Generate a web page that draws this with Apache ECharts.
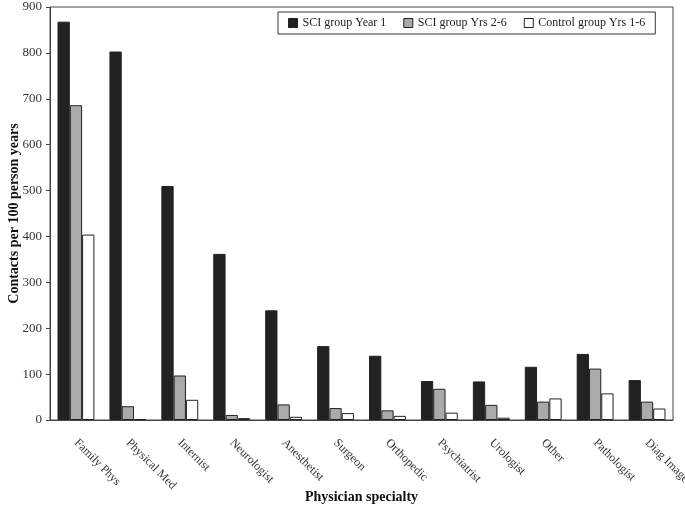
<!DOCTYPE html>
<html><head><meta charset="utf-8">
<script src="https://cdn.jsdelivr.net/npm/echarts@6/dist/echarts.min.js"></script>
<style>html,body{margin:0;padding:0;background:#fff}#c{width:685px;height:508px}</style>
</head><body><div id="c"></div>
<script>
const categories = ['Family Phys','Physical Med','Internist','Neurologist','Anesthetist','Surgeon','Orthopedic','Psychiatrist','Urologist','Other','Pathologist','Diag Image'];
const sciYear1 = [868, 803, 510, 362, 239, 161, 140, 85, 84, 116, 144, 87];
const sciYrs2to6 = [686, 30, 97, 11, 34, 26, 21, 68, 33, 40, 112, 40];
const controlYrs1to6 = [404, 2, 44, 4, 7, 15, 9, 16, 5, 47, 58, 25];
const seriesNames = ['SCI group Year 1', 'SCI group Yrs 2-6', 'Control group Yrs 1-6'];
const yTicks = {min: 0, max: 900, interval: 100};

const font = 'Liberation Serif';
const chart = echarts.init(document.getElementById('c'));
const mk = (name, data, color) => ({
  name, type: 'bar', data, barGap: '0%', barCategoryGap: '29%',
  itemStyle: {color, borderColor: '#222', borderWidth: 1}
});
chart.setOption({
  animation: false,
  textStyle: {fontFamily: font},
  grid: {left: 50, right: 12, top: 7, bottom: 88, show: true, borderColor: '#444', borderWidth: 1,
         containLabel: false, outerBoundsMode: 'none'},
  legend: {
    left: 278, top: 12, padding: [5, 10, 5, 10],
    borderColor: '#333', borderWidth: 1, itemGap: 17, itemWidth: 9, itemHeight: 9,
    icon: 'rect', itemStyle: {borderColor: '#222', borderWidth: 1},
    textStyle: {fontFamily: font, fontSize: 12, color: '#222'},
    data: seriesNames
  },
  xAxis: {
    type: 'category', data: categories,
    name: 'Physician specialty', nameLocation: 'middle', nameGap: 70, nameMoveOverlap: false,
    nameTextStyle: {fontFamily: font, fontSize: 14, fontWeight: 'bold', color: '#111'},
    axisLine: {lineStyle: {color: '#444'}},
    axisTick: {length: 5, lineStyle: {color: '#444'}},
    axisLabel: {rotate: -45, interval: 0, margin: 21, fontFamily: font, fontSize: 12, color: '#333'}
  },
  yAxis: {
    type: 'value', min: yTicks.min, max: yTicks.max, interval: yTicks.interval,
    name: 'Contacts per 100 person years', nameLocation: 'middle', nameGap: 29, nameMoveOverlap: false,
    nameTextStyle: {fontFamily: font, fontSize: 14, fontWeight: 'bold', color: '#111'},
    axisLine: {show: true, lineStyle: {color: '#444'}},
    axisTick: {show: true, length: 4, lineStyle: {color: '#444'}},
    splitLine: {show: false},
    axisLabel: {fontFamily: font, fontSize: 13, color: '#333', margin: 8}
  },
  series: [
    mk(seriesNames[0], sciYear1, '#222222'),
    mk(seriesNames[1], sciYrs2to6, '#aaaaaa'),
    mk(seriesNames[2], controlYrs1to6, '#ffffff')
  ]
});
</script></body></html>
